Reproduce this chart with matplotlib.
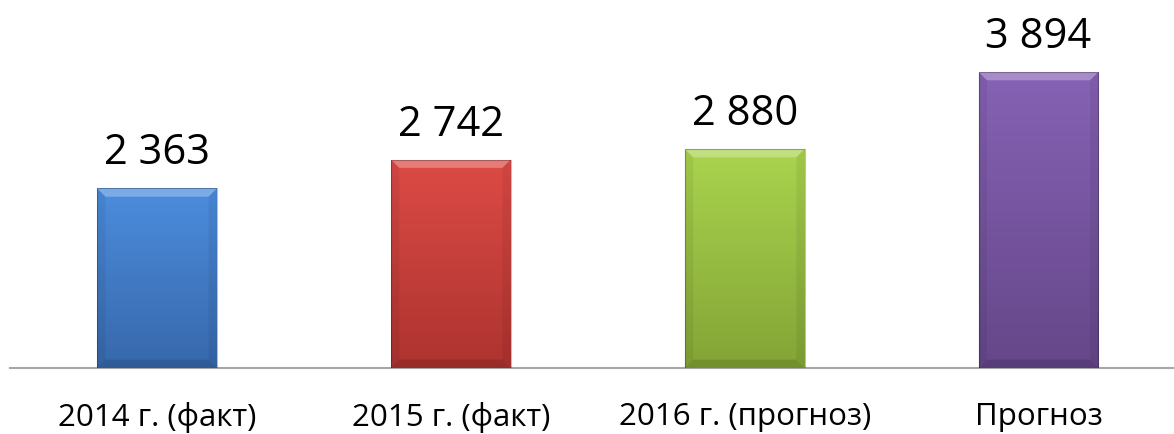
import numpy as np
import matplotlib
matplotlib.use('Agg')
import matplotlib.pyplot as plt
from matplotlib.colors import LinearSegmentedColormap
from matplotlib.patches import Polygon

# Данные
categorias = ["2014 г. (факт)", "2015 г. (факт)", "2016 г. (прогноз)", "Прогноз"]
valores = [2363, 2742, 2880, 3894]
etiquetas = ["2 363", "2 742", "2 880", "3 894"]
colores_arriba = ["#4c8ddd", "#dd4b46", "#aad44e", "#8762b5"]
colores_abajo = ["#3768ab", "#ad332f", "#83a436", "#654789"]

plt.rcParams['font.family'] = ['Open Sans', 'DejaVu Sans']

fig = plt.figure(figsize=(11.74, 4.35), dpi=100)
ax = fig.add_axes([10/1174, 66/435, 1164/1174, 369/435])

x = np.arange(len(categorias))
barras = ax.bar(x, valores, width=0.408, color='none', edgecolor='none')

# Degradado y bisel en cada barra
for b, c1, c2 in zip(barras, colores_arriba, colores_abajo):
    x0, y0 = b.get_x(), b.get_y()
    w, h = b.get_width(), b.get_height()
    cmap = LinearSegmentedColormap.from_list('g', [c2, c1])
    grad = np.linspace(0, 1, 256).reshape(-1, 1)
    im = ax.imshow(grad, cmap=cmap, extent=[x0, x0 + w, y0, y0 + h],
                   origin='lower', aspect='auto', zorder=2)
    im.set_clip_path(b)
    dy = 110
    dx = w * 0.07
    # bisel superior claro
    sup = Polygon([[x0, y0 + h], [x0 + w, y0 + h], [x0 + w - dx, y0 + h - dy],
                   [x0 + dx, y0 + h - dy]], closed=True, facecolor='white',
                  alpha=0.28, edgecolor='none', zorder=3)
    ax.add_patch(sup)
    # bisel inferior oscuro
    inf = Polygon([[x0, y0], [x0 + w, y0], [x0 + w - dx, y0 + dy],
                   [x0 + dx, y0 + dy]], closed=True, facecolor='black',
                  alpha=0.12, edgecolor='none', zorder=3)
    ax.add_patch(inf)
    # bordes laterales
    for lado in [[[x0, y0], [x0 + dx, y0 + dy], [x0 + dx, y0 + h - dy], [x0, y0 + h]],
                 [[x0 + w, y0], [x0 + w - dx, y0 + dy], [x0 + w - dx, y0 + h - dy], [x0 + w, y0 + h]]]:
        ax.add_patch(Polygon(lado, closed=True, facecolor='black', alpha=0.06,
                             edgecolor='none', zorder=3))
    ax.add_patch(plt.Rectangle((x0, y0), w, h, facecolor='none',
                               edgecolor='#00000040', lw=0.8, zorder=4))

for b, t in zip(barras, etiquetas):
    ax.annotate(t, (b.get_x() + b.get_width() / 2, b.get_height()),
                xytext=(0, 18), textcoords='offset points',
                ha='center', va='baseline', fontsize=30, color='black')

ax.set_xlim(-0.5003, 3.461)
ax.set_ylim(0, 4853)
ax.set_xticks(x)
ax.set_xticklabels(categorias, fontsize=22.5)
ax.tick_params(axis='x', length=0, pad=24)
ax.set_yticks([])
for s in ['top', 'right', 'left']:
    ax.spines[s].set_visible(False)
ax.spines['bottom'].set_color('#a6a6a6')
ax.spines['bottom'].set_linewidth(1.5)
ax.spines['bottom'].set_zorder(1)

plt.savefig('out.png', dpi=100)
plt.close()
